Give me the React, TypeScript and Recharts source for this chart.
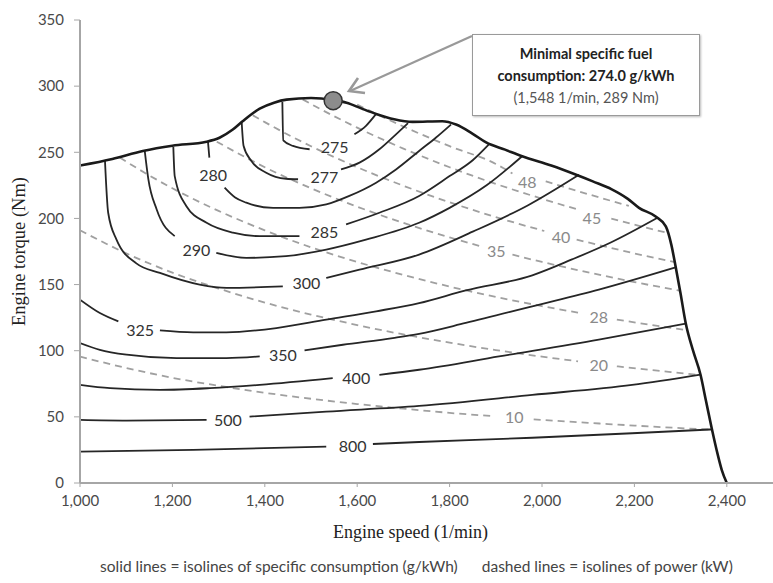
import React from "react";
import { LineChart, Line, XAxis, YAxis, ReferenceDot } from "recharts";

// axes
const speedTicks = [1000, 1200, 1400, 1600, 1800, 2000, 2200, 2400];
const torqueTicks = [0, 50, 100, 150, 200, 250, 300, 350];

// full load torque curve [1/min, Nm]
const fullLoad = [
  [1000, 240], [1070, 245], [1136, 251], [1200, 255], [1274, 258], [1302, 261],
  [1330, 267], [1352, 273.5], [1389, 283], [1420, 287.5], [1447, 289.8],
  [1500, 291], [1548, 289.5], [1577, 287.5], [1610, 283], [1641, 279],
  [1680, 275], [1720, 273], [1784, 273.5], [1814, 271], [1850, 264],
  [1879, 257.5], [1920, 252], [1957, 247], [2020, 240], [2074, 233],
  [2110, 228], [2151, 222], [2185, 215], [2210, 208], [2246, 201.5],
  [2268, 194], [2280, 180], [2289, 164], [2300, 143], [2311, 121],
  [2327, 100], [2343, 82], [2355, 62], [2367, 42], [2380, 22], [2389, 10],
  [2400, 0],
];

// isolines of specific consumption (g/kWh), null = gap for the label
const bsfc275 = [[1438, 288], [1440, 259], [1461, 254.8], [1497, 252.3], [1550, null], [1594, 263.6], [1619, 270], [1641, 279]];
const bsfc277 = [[1350, 272.5], [1354, 255], [1371, 243.4], [1403, 234.6], [1446, 230], [1472, 229.6], [1530, null], [1565, 237.1], [1605, 242.2], [1648, 252.3], [1684, 263.6], [1710, 272]];
const bsfc280 = [[1277, 258], [1280, 246], [1300, null], [1313, 223.2], [1335, 216], [1360, 211.9], [1418, 208], [1475, 208], [1533, 210.6], [1583, 217], [1641, 227], [1684, 237], [1734, 251], [1770, 261], [1803, 271]];
const bsfc285 = [[1202, 254], [1205, 232], [1230, 209.4], [1274, 196.7], [1331, 189.2], [1389, 186.6], [1475, 186.6], [1530, null], [1576, 195.5], [1648, 204.3], [1734, 217], [1800, 232], [1850, 244], [1885, 256]];
const bsfc290 = [[1140, 251.5], [1148, 229.5], [1166, 206.8], [1205, 186.6], [1250, null], [1295, 174], [1360, 170.2], [1446, 171.5], [1533, 176.5], [1619, 184], [1734, 196.7], [1800, 208], [1880, 225], [1957, 247]];
const bsfc300 = [[1054, 244], [1061, 204.3], [1079, 184], [1122, 166], [1173, 158.8], [1259, 150], [1317, 147.5], [1439, 148.7], [1490, null], [1533, 155], [1605, 161.3], [1734, 172.7], [1850, 190], [1970, 210], [2080, 233]];
const bsfc325 = [[1000, 138.6], [1043, 128.5], [1083, 122.2], [1130, null], [1173, 115.4], [1245, 113.9], [1317, 113.9], [1425, 117.1], [1533, 123.5], [1641, 129.8], [1734, 136], [1835, 145.6], [1979, 157], [2065, 169], [2150, 182], [2250, 200.5]];
const bsfc350 = [[1000, 105.8], [1043, 100.7], [1101, 97], [1209, 94.4], [1317, 94.4], [1389, 95.7], [1440, null], [1486, 100.2], [1569, 104.5], [1677, 109.6], [1734, 112.8], [1835, 121], [1979, 133.6], [2123, 146.2], [2289, 163]];
const bsfc400 = [[1000, 74.2], [1065, 71.7], [1173, 70.4], [1281, 71.7], [1389, 74.2], [1547, 79.3], [1598, null], [1648, 81.8], [1734, 85.6], [1907, 95.7], [2123, 108.3], [2311, 120.5]];
const bsfc500 = [[1000, 47.7], [1101, 47.2], [1274, 47.7], [1320, null], [1367, 50.2], [1533, 54], [1734, 58.3], [1979, 66.6], [2195, 74.2], [2343, 82]];
const bsfc800 = [[1000, 23.7], [1245, 25], [1533, 27.5], [1590, null], [1634, 29.5], [1734, 31], [1979, 34.2], [2195, 37.6], [2368, 40.5]];

// isolines of power (kW)
const pow10 = [[1000, 95.5], [1100, 87], [1200, 79.5], [1300, 73.5], [1400, 68.2], [1500, 63.7], [1600, 59.7], [1700, 56.2], [1800, 53], [1895, 50.5], [1940, null], [1982, 48.1], [2100, 45.5], [2200, 43.4], [2300, 41.5], [2367, 40.4]];
const pow20 = [[1000, 191], [1100, 173.6], [1200, 159], [1300, 147], [1400, 136.4], [1500, 127.3], [1600, 119.4], [1700, 112.3], [1800, 106.1], [1900, 100.5], [2000, 95.5], [2078, 92], [2123, null], [2162, 88.2], [2250, 84.9], [2343, 81.5]];
const pow28 = [[1086, 246], [1150, 232.5], [1200, 222.8], [1300, 205.7], [1400, 191], [1500, 178.2], [1600, 167.1], [1700, 157.3], [1800, 148.5], [1900, 140.7], [2000, 133.7], [2078, 128.8], [2123, null], [2162, 123.5], [2250, 118.8], [2311, 115.7]];
const pow35 = [[1296, 258], [1400, 238.7], [1500, 222.8], [1600, 208.9], [1700, 196.6], [1800, 185.7], [1864, 179.3], [1900, null], [1936, 172.6], [2000, 167.1], [2100, 159.2], [2200, 151.9], [2298, 145.4]];
const pow40 = [[1374, 278], [1400, 272.8], [1500, 254.6], [1600, 238.7], [1700, 224.7], [1800, 212.2], [1900, 201], [2005, 190.5], [2041, null], [2075, 184], [2150, 177.6], [2220, 172], [2288, 167]];
const pow45 = [[1482, 290], [1500, 286.5], [1600, 268.6], [1700, 252.8], [1800, 238.7], [1900, 226.1], [2000, 214.9], [2075, 207], [2108, null], [2150, 199.9], [2210, 194.4], [2272, 189]];
const pow48 = [[1600, 286], [1700, 269.5], [1800, 254.6], [1900, 241.2], [1936, 234], [1968, null], [2008, 228], [2100, 218.3], [2188, 209.5]];

const bsfcLines = [bsfc275, bsfc277, bsfc280, bsfc285, bsfc290, bsfc300, bsfc325, bsfc350, bsfc400, bsfc500, bsfc800];
const powerLines = [pow10, pow20, pow28, pow35, pow40, pow45, pow48];

const bsfcLabels = [
  { text: "275", x: 1551, y: 254 },
  { text: "277", x: 1529, y: 232 },
  { text: "280", x: 1288, y: 233.5 },
  { text: "285", x: 1529, y: 190.4 },
  { text: "290", x: 1252, y: 176.5 },
  { text: "300", x: 1490, y: 151.2 },
  { text: "325", x: 1130, y: 116.4 },
  { text: "350", x: 1439, y: 97.4 },
  { text: "400", x: 1598, y: 80 },
  { text: "500", x: 1320, y: 48.2 },
  { text: "800", x: 1590, y: 28.3 },
];

const powerLabels = [
  { text: "10", x: 1940, y: 50 },
  { text: "20", x: 2123, y: 89.4 },
  { text: "28", x: 2123, y: 126 },
  { text: "35", x: 1901, y: 176 },
  { text: "40", x: 2041, y: 186 },
  { text: "45", x: 2108, y: 201 },
  { text: "48", x: 1968, y: 228 },
];

const minPoint = [{ x: 1548, y: 289 }];

const toPts = (arr: (number | null)[][]) => arr.map(([x, y]) => ({ x, y }));
const fmt = (v: number) => String(v).replace(/\B(?=(\d{3})+(?!\d))/g, ",");

const sans = "Lato, 'Open Sans', sans-serif";
const serif = "'Liberation Serif', serif";

const textShape = (text: string, color: string) => (p: any) => (
  <text
    x={p.cx}
    y={p.cy}
    textAnchor="middle"
    dominantBaseline="central"
    fill={color}
    fontSize={16}
    fontFamily={sans}
  >
    {text}
  </text>
);

export default function App() {
  return (
    <div style={{ position: "absolute", left: 0, top: 0, width: 773, height: 583, background: "#fff" }}>
      <LineChart width={773} height={583} margin={{ top: 20, right: 0, bottom: 40, left: 0 }}>
        <XAxis
          dataKey="x"
          type="number"
          domain={[1000, 2500]}
          ticks={speedTicks}
          allowDataOverflow
          tickFormatter={fmt}
          height={60}
          tickSize={4}
          tickMargin={8}
          axisLine={{ stroke: "#a6a6a6", strokeWidth: 2 }}
          tickLine={{ stroke: "#a6a6a6" }}
          tick={{ fill: "#4a4a4a", fontSize: 15, fontFamily: sans }}
          label={{
            value: "Engine speed (1/min)",
            position: "insideBottom",
            offset: 5,
            dx: -16,
            fill: "#222",
            fontSize: 18,
            fontFamily: serif,
          }}
        />
        <YAxis
          type="number"
          domain={[0, 350]}
          ticks={torqueTicks}
          width={80}
          tickSize={6}
          tickMargin={10}
          axisLine={{ stroke: "#a6a6a6", strokeWidth: 2 }}
          tickLine={{ stroke: "#a6a6a6" }}
          tick={{ fill: "#4a4a4a", fontSize: 15, fontFamily: sans }}
          label={{
            value: "Engine torque (Nm)",
            angle: -90,
            position: "insideLeft",
            offset: 18,
            fill: "#222",
            fontSize: 18.5,
            fontFamily: serif,
            style: { textAnchor: "middle" },
          }}
        />
        {powerLines.map((d, i) => (
          <Line
            key={"p" + i}
            data={toPts(d)}
            dataKey="y"
            type="monotone"
            stroke="#a0a0a0"
            strokeWidth={1.8}
            strokeDasharray="7 5"
            dot={false}
            activeDot={false}
            isAnimationActive={false}
          />
        ))}
        {bsfcLines.map((d, i) => (
          <Line
            key={"b" + i}
            data={toPts(d)}
            dataKey="y"
            type="monotone"
            stroke="#262626"
            strokeWidth={1.8}
            dot={false}
            activeDot={false}
            isAnimationActive={false}
          />
        ))}
        <Line
          data={toPts(fullLoad)}
          dataKey="y"
          type="monotone"
          stroke="#1a1a1a"
          strokeWidth={2.6}
          dot={false}
          activeDot={false}
          isAnimationActive={false}
        />
        <Line
          data={minPoint}
          dataKey="y"
          stroke="none"
          dot={{ r: 9, fill: "#8c8c8c", stroke: "#333", strokeWidth: 1.5 }}
          activeDot={false}
          isAnimationActive={false}
        />
        {bsfcLabels.map((l) => (
          <ReferenceDot key={"bl" + l.text} x={l.x} y={l.y} r={1} shape={textShape(l.text, "#333")} />
        ))}
        {powerLabels.map((l) => (
          <ReferenceDot key={"pl" + l.text} x={l.x} y={l.y} r={1} shape={textShape(l.text, "#8a8a8a")} />
        ))}
      </LineChart>

      <svg width={773} height={583} style={{ position: "absolute", left: 0, top: 0, pointerEvents: "none" }}>
        <line x1={472} y1={36} x2={350} y2={91} stroke="#999" strokeWidth={2.2} />
        <polyline points="365,93 349,91 358,78" fill="none" stroke="#999" strokeWidth={2.6} />
      </svg>

      <div
        style={{
          position: "absolute",
          left: 472,
          top: 34,
          width: 228,
          height: 82,
          border: "1.5px solid #9a9a9a",
          boxShadow: "1px 1px 2px #bbb",
          background: "#fff",
          fontFamily: sans,
          fontSize: 14.5,
          lineHeight: "22px",
          textAlign: "center",
          color: "#222",
          paddingTop: 8,
          boxSizing: "border-box",
        }}
      >
        <div style={{ fontWeight: 700 }}>Minimal specific fuel</div>
        <div style={{ fontWeight: 700 }}>consumption: 274.0 g/kWh</div>
        <div style={{ color: "#555" }}>(1,548 1/min, 289 Nm)</div>
      </div>

      <div
        style={{
          position: "absolute",
          left: 100,
          top: 557,
          fontFamily: sans,
          fontSize: 15.5,
          color: "#444",
          whiteSpace: "nowrap",
        }}
      >
        solid lines = isolines of specific consumption (g/kWh)
        <span style={{ display: "inline-block", width: 24 }} />
        dashed lines = isolines of power (kW)
      </div>
    </div>
  );
}
